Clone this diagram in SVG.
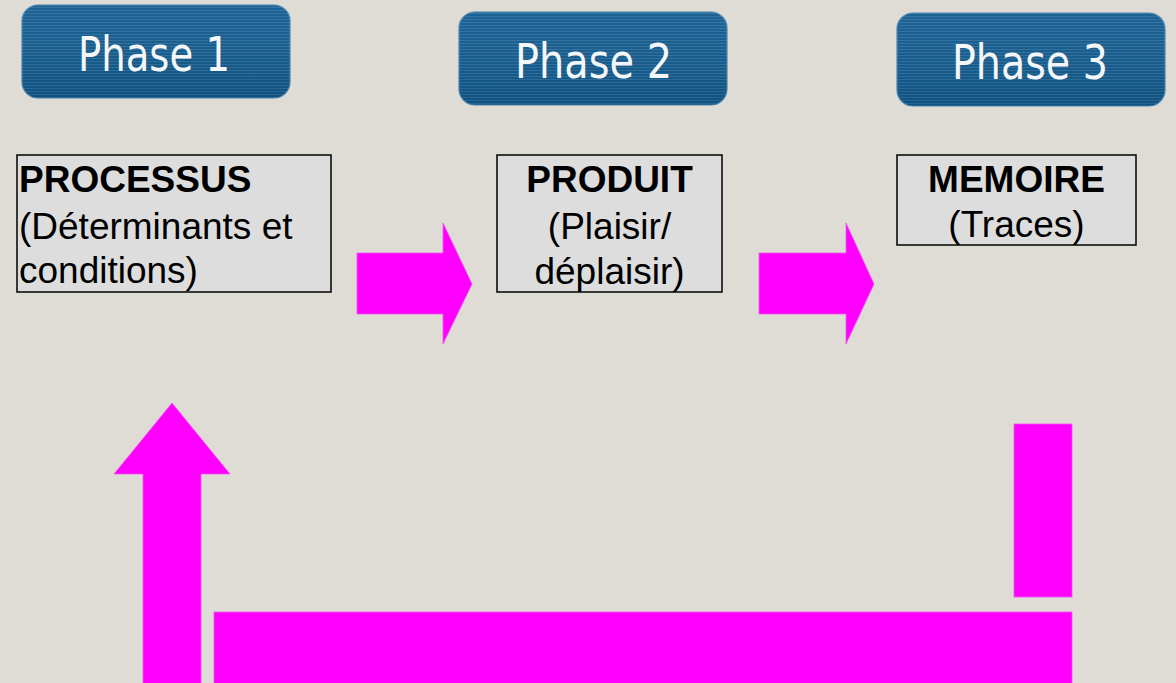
<svg xmlns="http://www.w3.org/2000/svg" width="1176" height="683" viewBox="0 0 1176 683">
  <defs>
    <!-- striped blue fill for the phase headers -->
    <pattern id="stripes" width="8" height="3" patternUnits="userSpaceOnUse">
      <rect width="8" height="3" fill="#105a8d"/>
      <rect y="1" width="8" height="1" fill="#3f7cab" opacity="0.6"/>
    </pattern>
    <linearGradient id="shade" x1="0" y1="0" x2="0" y2="1">
      <stop offset="0" stop-color="#ffffff" stop-opacity="0.05"/>
      <stop offset="1" stop-color="#000000" stop-opacity="0.1"/>
    </linearGradient>
    <style>
      .phase-bg { fill: url(#stripes); stroke: #4a86b2; stroke-width: 1.2; }
      .phase-shade { fill: url(#shade); }
      .phase-text { font-family: "DejaVu Sans Condensed", "DejaVu Sans", sans-serif; font-size: 48px; fill: #f4f6f8; }
      .box { fill: #dddddd; stroke: #000000; stroke-width: 1.5; }
      .title { font-family: "Liberation Sans", Arial, sans-serif; font-size: 37px; font-weight: bold; fill: #000000; }
      .body { font-family: "Liberation Sans", Arial, sans-serif; font-size: 37px; fill: #000000; }
      .arrow { fill: #ff00ff; stroke: #f050f0; stroke-width: 0.8; }
    </style>
  </defs>

  <!-- page background -->
  <rect width="1176" height="683" fill="#dfdcd5"/>

  <!-- phase headers -->
  <g id="phase1">
    <rect class="phase-bg" x="22" y="5" width="268" height="93" rx="16"/>
    <rect class="phase-shade" x="22" y="5" width="268" height="93" rx="16"/>
    <text class="phase-text" x="78" y="71" textLength="152" lengthAdjust="spacingAndGlyphs">Phase 1</text>
  </g>
  <g id="phase2">
    <rect class="phase-bg" x="459" y="12" width="268" height="93" rx="16"/>
    <rect class="phase-shade" x="459" y="12" width="268" height="93" rx="16"/>
    <text class="phase-text" x="515" y="78" textLength="157" lengthAdjust="spacingAndGlyphs">Phase 2</text>
  </g>
  <g id="phase3">
    <rect class="phase-bg" x="897" y="13" width="268" height="93" rx="16"/>
    <rect class="phase-shade" x="897" y="13" width="268" height="93" rx="16"/>
    <text class="phase-text" x="952" y="79" textLength="156" lengthAdjust="spacingAndGlyphs">Phase 3</text>
  </g>

  <!-- content boxes -->
  <g id="processus">
    <rect class="box" x="17" y="155" width="314" height="137"/>
    <text class="title" x="19" y="192">PROCESSUS</text>
    <text class="body" x="19" y="239">(Déterminants et</text>
    <text class="body" x="19" y="283">conditions)</text>
  </g>
  <g id="produit">
    <rect class="box" x="497" y="155" width="225" height="137"/>
    <text class="title" x="609.5" y="192" text-anchor="middle">PRODUIT</text>
    <text class="body" x="609.5" y="239" text-anchor="middle">(Plaisir/</text>
    <text class="body" x="609.5" y="284" text-anchor="middle">déplaisir)</text>
  </g>
  <g id="memoire">
    <rect class="box" x="897" y="155" width="239" height="90"/>
    <text class="title" x="1016.5" y="192" text-anchor="middle">MEMOIRE</text>
    <text class="body" x="1016.5" y="237" text-anchor="middle">(Traces)</text>
  </g>

  <!-- block arrows -->
  <g id="connectors">
    <polygon class="arrow" points="357,253 443,253 443,223 472,284 443,344 443,314 357,314"/>
    <polygon class="arrow" points="759,253 846,253 846,223 874,284 846,344 846,314 759,314"/>
    <rect class="arrow" x="1014" y="424" width="58" height="173"/>
    <rect class="arrow" x="214" y="612" width="858" height="80"/>
    <polygon class="arrow" points="143,690 143,474 114,474 172,403 230,474 201,474 201,690"/>
  </g>
</svg>
